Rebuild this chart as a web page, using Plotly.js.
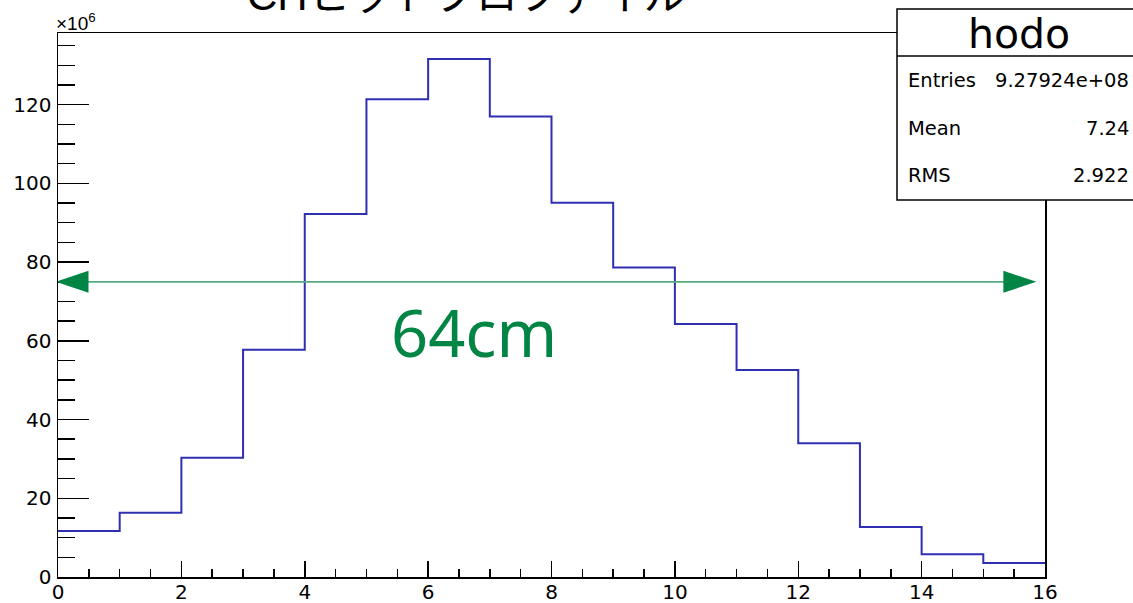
<!DOCTYPE html>
<html>
<head>
<meta charset="utf-8">
<script src="https://cdn.plot.ly/plotly-3.0.1.min.js"></script>
<style>html,body{margin:0;padding:0;background:#fff;}#chart{width:1133px;height:603px;}</style>
</head>
<body>
<div id="chart"></div>
<script>
// ---- data (counts in units of 1e6) ----
const binEdges = [0,1,2,3,4,5,6,7,8,9,10,11,12,13,14,15,16];
const counts = [11.7,16.35,30.3,57.7,92.2,121.4,131.6,117.0,95.1,78.6,64.3,52.6,34.0,12.7,5.8,3.56];
const histName = 'hodo';
const statsLabels = ['Entries','Mean','RMS'];
const statsValues = ['9.27924e+08','7.24','2.922'];
const titleText = 'CHヒットプロファイル';
const widthLabel = '64cm';
const arrowY = 75;
const arrowX0 = -0.04;
const arrowX1 = 15.86;
const xRange = [0,16];
const yRange = [0,138.2];

// ---- layout geometry ----
const W = 1133, H = 603;
const mL = 58, mR = 88, mT = 33, mB = 26;
const plotW = W - mL - mR, plotH = H - mT - mB;
const pxX = plotW/(xRange[1]-xRange[0]);
const pxY = plotH/(yRange[1]-yRange[0]);
const px2paperX = p => (p - mL)/plotW;
const px2paperY = p => (H - mB - p)/plotH;

const font = 'DejaVu Sans, Liberation Sans, sans-serif';
const jpFont = 'Liberation Sans, Noto Sans CJK JP, sans-serif';
const green = '#008545';

const stepY = counts.concat([counts[counts.length-1]]);
const traces = [{
  type:'scatter', mode:'lines', x: binEdges, y: stepY,
  line:{shape:'hv', color:'#2f2fb2', width:2}, hoverinfo:'skip'
}];

// arrow heads sizes in data units
const headL = 33/pxX, headH = 11/pxY;
const shapes = [
  {type:'line', xref:'x', yref:'y', x0:arrowX0+headL*0.5, x1:arrowX1-headL*0.5, y0:arrowY, y1:arrowY,
   line:{color:'#55aa80', width:1.8}},
  {type:'path', xref:'x', yref:'y',
   path:`M ${arrowX0},${arrowY} L ${arrowX0+headL},${arrowY+headH} L ${arrowX0+headL},${arrowY-headH} Z`,
   fillcolor:green, line:{width:0}},
  {type:'path', xref:'x', yref:'y',
   path:`M ${arrowX1},${arrowY} L ${arrowX1-headL},${arrowY+headH} L ${arrowX1-headL},${arrowY-headH} Z`,
   fillcolor:green, line:{width:0}},
  // stats box
  {type:'rect', xref:'paper', yref:'paper', layer:'above',
   x0:px2paperX(897), x1:px2paperX(1145), y0:px2paperY(200), y1:px2paperY(9),
   fillcolor:'#ffffff', line:{color:'#000', width:1.5}},
  {type:'line', xref:'paper', yref:'paper', layer:'above',
   x0:px2paperX(897), x1:px2paperX(1145), y0:px2paperY(56), y1:px2paperY(56),
   line:{color:'#000', width:1.5}}
];

const annotations = [
  {xref:'paper', yref:'paper', x:px2paperX(466), y:px2paperY(-4), text:titleText,
   showarrow:false, xanchor:'center', yanchor:'middle', font:{family:jpFont, size:42, color:'#000'}},
  {xref:'paper', yref:'paper', x:px2paperX(54), y:px2paperY(22), text:'×10<sup>6</sup>',
   showarrow:false, xanchor:'left', yanchor:'middle', font:{family:'Liberation Sans, sans-serif', size:19, color:'#000'}},
  {xref:'x', yref:'y', x:6.75, y:62.3, text:widthLabel, showarrow:false,
   xanchor:'center', yanchor:'middle', font:{family:'Noto Sans, sans-serif', size:65, color:green}},
  {xref:'paper', yref:'paper', x:px2paperX(1019), y:px2paperY(34), text:histName, showarrow:false,
   xanchor:'center', yanchor:'middle', font:{family:font, size:41, color:'#000'}}
];
const rowY = [80,128,176];
statsLabels.forEach((lab,i)=>{
  annotations.push({xref:'paper', yref:'paper', x:px2paperX(906), y:px2paperY(rowY[i]), text:lab,
    showarrow:false, xanchor:'left', yanchor:'middle', font:{family:font, size:19.5, color:'#000'}});
  annotations.push({xref:'paper', yref:'paper', x:px2paperX(1131), y:px2paperY(rowY[i]), text:statsValues[i],
    showarrow:false, xanchor:'right', yanchor:'middle', font:{family:font, size:19.5, color:'#000'}});
});

const layout = {
  width:W, height:H, margin:{l:mL, r:mR, t:mT, b:mB, pad:0},
  paper_bgcolor:'#fff', plot_bgcolor:'#fff', showlegend:false,
  xaxis:{range:xRange, dtick:2, tick0:0, ticks:'inside', ticklen:16, tickwidth:1.5, tickcolor:'#000',
    minor:{dtick:0.5, ticks:'inside', ticklen:8, tickwidth:1.5, tickcolor:'#000'},
    showline:true, linecolor:'#000', linewidth:1.5, mirror:true, showgrid:false, zeroline:false,
    tickfont:{family:font, size:20, color:'#000'}, ticklabelstandoff:-4},
  yaxis:{range:yRange, dtick:20, tick0:0, ticks:'inside', ticklen:31, tickwidth:1.5, tickcolor:'#000',
    minor:{dtick:5, ticks:'inside', ticklen:17, tickwidth:1.5, tickcolor:'#000'},
    showline:true, linecolor:'#000', linewidth:1.5, mirror:true, showgrid:false, zeroline:false,
    tickfont:{family:font, size:20, color:'#000'}, ticklabelstandoff:1},
  shapes:shapes, annotations:annotations
};
Plotly.newPlot('chart', traces, layout, {staticPlot:true, displayModeBar:false});
</script>
</body>
</html>
